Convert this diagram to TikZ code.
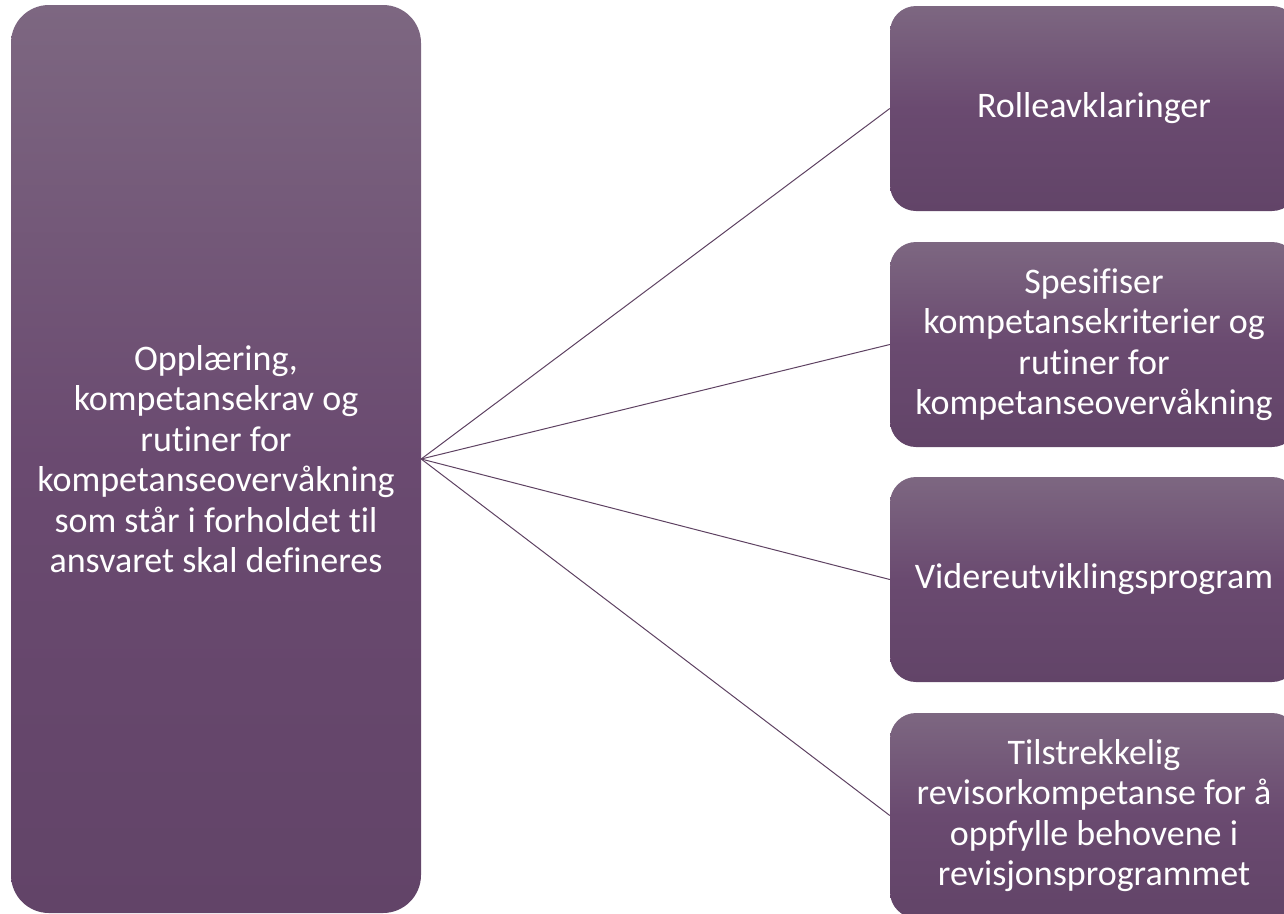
\documentclass[tikz,border=0pt]{standalone}
\usepackage{fontspec}
\setmainfont{Carlito}[Ligatures={NoCommon}]
\definecolor{ptop}{HTML}{7D6781}
\definecolor{pmid}{HTML}{6A4A70}
\definecolor{pbot}{HTML}{624468}
\definecolor{pline}{HTML}{5E4262}
\begin{document}
\begin{tikzpicture}[x=1pt,y=-1pt,
  box/.style={shade, top color=ptop, bottom color=pbot, middle color=pmid,
    text=white, align=center, inner sep=0pt,
    font=\fontsize{36}{40.5}\selectfont},
  bigbox/.style={box, rounded corners=38pt, minimum width=410pt, minimum height=908pt},
  smallbox/.style={box, rounded corners=26pt, minimum width=408pt, minimum height=205pt},
  link/.style={draw=pline, line width=1pt}]
\useasboundingbox (0,0) rectangle (1284,913);
\clip (0,0) rectangle (1284,913);
\node[bigbox] (main) at (216,459) {Opplæring,\\kompetansekrav og\\rutiner for\\kompetanseovervåkning\\som står i forholdet til\\ansvaret skal defineres};
\node[smallbox] (r1) at (1094,108.5) {Rolleavklaringer};
\node[smallbox] (r2) at (1094,344.5) {Spesifiser\\kompetansekriterier og\\rutiner for\\kompetanseovervåkning};
\node[smallbox] (r3) at (1094,579.5) {Videreutviklingsprogram};
\node[smallbox] (r4) at (1094,815.5) {Tilstrekkelig\\revisorkompetanse for å\\oppfylle behovene i\\revisjonsprogrammet};
\foreach \r in {r1,r2,r3,r4} \draw[link] (main.east) -- (\r.west);
\end{tikzpicture}
\end{document}
